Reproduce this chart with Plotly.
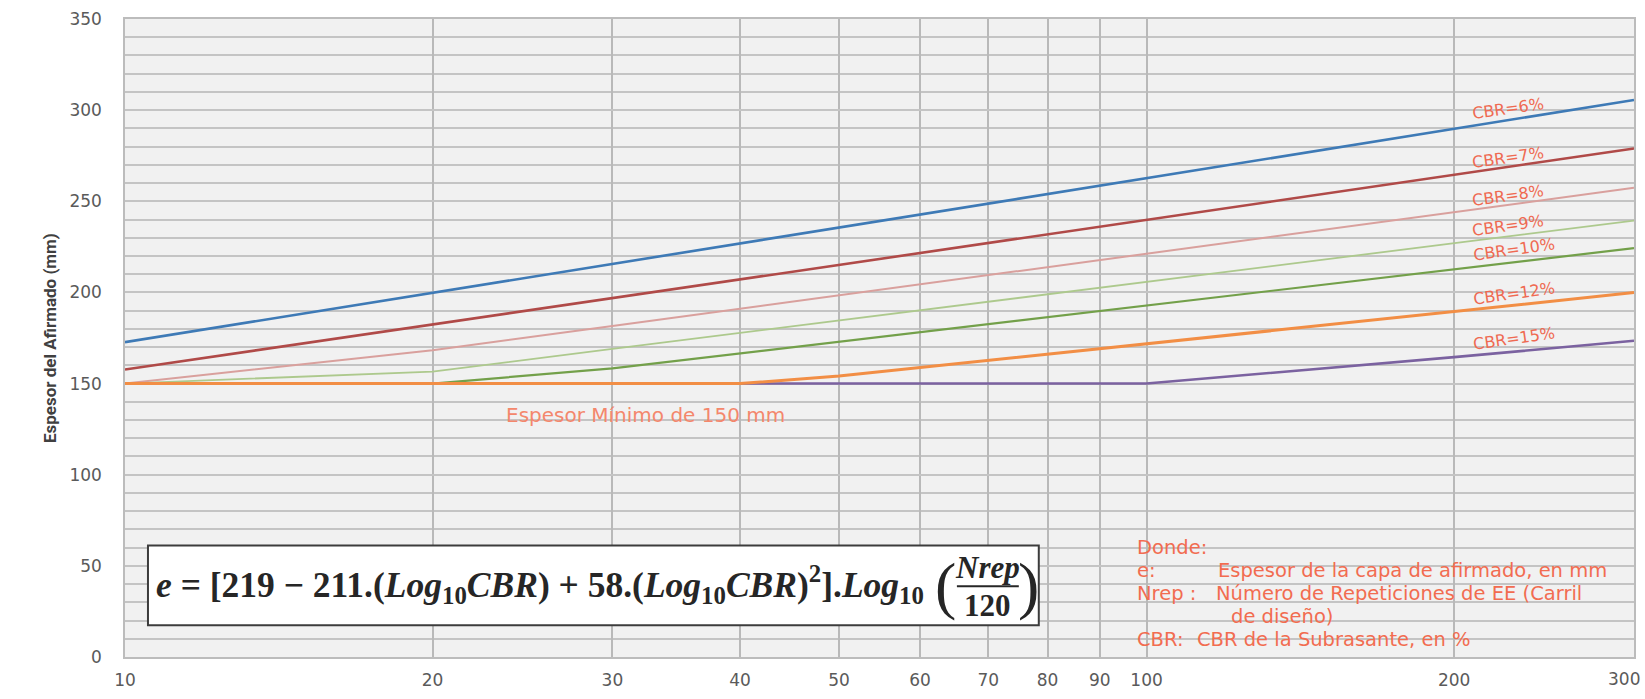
import math
import plotly.graph_objects as go

# Repeticiones de EE (miles) en las que se leen los espesores
nrep = [10, 20, 30, 40, 50, 60, 70, 80, 90, 100, 200, 300]

# Espesor del afirmado (mm) por CBR de subrasante
cbr_6 = [172.7, 199.8, 215.6, 226.9, 235.6, 242.7, 248.7, 254.0, 258.6, 262.7, 289.7, 305.6]
cbr_7 = [157.7, 182.4, 196.9, 207.1, 215.1, 221.6, 227.1, 231.8, 236.0, 239.8, 264.5, 279.0]
cbr_8 = [150.0, 168.3, 181.6, 191.1, 198.4, 204.4, 209.5, 213.9, 217.8, 221.3, 244.1, 257.4]
cbr_9 = [150.0, 156.6, 169.0, 177.8, 184.6, 190.2, 194.9, 199.0, 202.6, 205.8, 227.0, 239.4]
cbr_10 = [150.0, 150.0, 158.3, 166.5, 172.9, 178.1, 182.5, 186.4, 189.8, 192.8, 212.6, 224.3]
cbr_12 = [150.0, 150.0, 150.0, 150.0, 154.1, 158.8, 162.7, 166.2, 169.2, 171.9, 189.6, 199.9]
cbr_15 = [150.0, 150.0, 150.0, 150.0, 150.0, 150.0, 150.0, 150.0, 150.0, 150.0, 164.5, 173.5]

x_ticks = [10, 20, 30, 40, 50, 60, 70, 80, 90, 100, 200, 300]
y_ticks = [0, 50, 100, 150, 200, 250, 300, 350]

# (name, values, colour, width, label x, label y)
series = [
    ("CBR=6%", cbr_6, "#3E7AB6", 2.6, 226, 301),
    ("CBR=7%", cbr_7, "#B04A48", 2.6, 226, 274),
    ("CBR=8%", cbr_8, "#D9A09D", 2.0, 226, 253),
    ("CBR=9%", cbr_9, "#ADC98D", 1.8, 226, 236.5),
    ("CBR=10%", cbr_10, "#73A04A", 2.2, 229, 223.5),
    ("CBR=15%", cbr_15, "#7B62A0", 2.6, 229, 174.5),
    ("CBR=12%", cbr_12, "#F28E45", 3.0, 229, 199.5),
]

W, H = 1645, 699
L, R, T, B = 125, 9, 18, 40
PW, PH = W - L - R, H - T - B


def px(x):
    return (x - L) / PW


def py(y):
    return (H - B - y) / PH


fig = go.Figure()
for name, vals, color, width, _, _ in series:
    fig.add_trace(go.Scatter(x=nrep, y=vals, mode="lines", name=name,
                             line=dict(color=color, width=width)))

label_red = "#EF6A52"
annotations = []
for name, vals, color, width, lx, ly in series:
    annotations.append(dict(x=math.log10(lx), y=ly, xref="x", yref="y", text=name,
                            showarrow=False, textangle=-8,
                            font=dict(family="DejaVu Sans", size=16, color=label_red)))

annotations.append(dict(x=math.log10(32.3), y=133, xref="x", yref="y",
                        text="Espesor Mínimo de 150 mm", showarrow=False,
                        font=dict(family="DejaVu Sans", size=20, color="#F4876C")))

# Leyenda de variables
donde = [
    (1136, 549, "Donde:"),
    (1136, 572, "e:"),
    (1217, 572, "Espesor de la capa de afirmado, en mm"),
    (1136, 595, "Nrep :"),
    (1215, 595, "Número de Repeticiones de EE (Carril"),
    (1230, 618, "de diseño)"),
    (1136, 641, "CBR:"),
    (1196, 641, "CBR de la Subrasante, en %"),
]
for x, y, t in donde:
    annotations.append(dict(x=px(x), y=py(y), xref="paper", yref="paper", text=t,
                            xanchor="left", yanchor="middle", showarrow=False,
                            font=dict(family="DejaVu Sans", size=19.5, color="#F26C50")))

# Fórmula
serif = "Liberation Serif"
ink = "#262626"
annotations.append(dict(
    x=px(154), y=py(586), xref="paper", yref="paper", xanchor="left", yanchor="middle",
    showarrow=False,
    text="<b><i>e</i> = [219 − 211.(<i>Log</i><sub>10</sub><i>CBR</i>) + 58.(<i>Log</i>"
         "<sub>10</sub><i>CBR</i>)<sup>2</sup>].<i>Log</i><sub>10</sub></b>",
    font=dict(family=serif, size=35.5, color=ink)))
annotations.append(dict(x=px(947), y=py(587), xref="paper", yref="paper",
                        xanchor="center", yanchor="middle", showarrow=False, text="(",
                        font=dict(family=serif, size=64, color=ink)))
annotations.append(dict(x=px(1030), y=py(587), xref="paper", yref="paper",
                        xanchor="center", yanchor="middle", showarrow=False, text=")",
                        font=dict(family=serif, size=64, color=ink)))
annotations.append(dict(x=px(989), y=py(569), xref="paper", yref="paper",
                        xanchor="center", yanchor="middle", showarrow=False,
                        text="<b><i>Nrep</i></b>",
                        font=dict(family=serif, size=31, color=ink)))
annotations.append(dict(x=px(989), y=py(607), xref="paper", yref="paper",
                        xanchor="center", yanchor="middle", showarrow=False,
                        text="<b>120</b>",
                        font=dict(family=serif, size=31, color=ink)))

# Títulos de ejes
annotations.append(dict(x=px(50), y=0.5, xref="paper", yref="paper", textangle=-90,
                        text="Espesor del Afirmado (mm)", showarrow=False,
                        xanchor="center", yanchor="middle",
                        font=dict(family="Roboto", size=17, color="#404040", weight="bold")))
annotations.append(dict(x=px(868), y=py(708), xref="paper", yref="paper",
                        text="Número de Repeticiones de EE (miles)", showarrow=False,
                        xanchor="center", yanchor="middle",
                        font=dict(family="Roboto", size=13, color="#555555")))

tickfont = dict(family="DejaVu Sans", size=17, color="#5a5a5a")

# Última etiqueta del eje x, ajustada dentro del lienzo
annotations.append(dict(x=px(1626), y=py(681), xref="paper", yref="paper",
                        text=str(x_ticks[-1]), showarrow=False,
                        xanchor="center", yanchor="middle", font=tickfont))

shapes = [
    dict(type="rect", xref="paper", yref="paper", x0=px(148), x1=px(1040),
         y0=py(627), y1=py(547), fillcolor="white", line=dict(color="#3c3c3c", width=2),
         layer="above"),
    dict(type="line", xref="paper", yref="paper", x0=px(958), x1=px(1020),
         y0=py(588), y1=py(588), line=dict(color=ink, width=2), layer="above"),
]

grid = "#c4c4c4"
fig.update_layout(
    width=W, height=H,
    margin=dict(l=L, r=R, t=T, b=B),
    paper_bgcolor="white", plot_bgcolor="#f1f1f1",
    showlegend=False,
    annotations=annotations, shapes=shapes,
    xaxis=dict(type="log", range=[1, math.log10(300)], tickvals=x_ticks,
               ticktext=[str(v) for v in x_ticks[:-1]] + [""], showgrid=True,
               gridcolor="#b9b9b9",
               gridwidth=1.5, ticks="outside", ticklen=7, tickcolor="rgba(0,0,0,0)",
               tickfont=tickfont, showline=True, linecolor="#bcbcbc", linewidth=1.5,
               mirror=True, zeroline=False),
    yaxis=dict(range=[0, 350], tickvals=y_ticks, showgrid=True, gridcolor=grid,
               gridwidth=1.5, minor=dict(dtick=10, showgrid=True, gridcolor=grid,
                                         gridwidth=1.5),
               ticks="outside", ticklen=18, tickcolor="rgba(0,0,0,0)",
               tickfont=tickfont, showline=True, linecolor="#bcbcbc", linewidth=1.5,
               mirror=True, zeroline=False),
)

fig.write_html("out.html")
